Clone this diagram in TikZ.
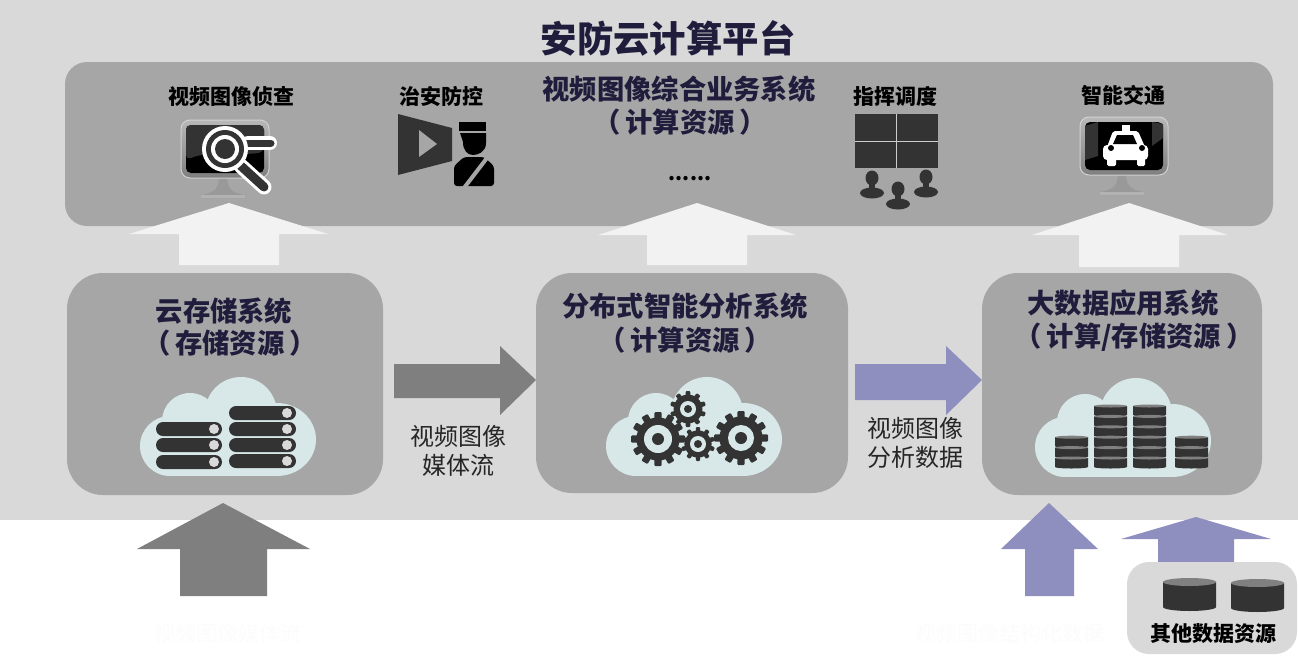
\documentclass[tikz,border=0pt]{standalone}
\usepackage{fontspec}
\setmainfont{Noto Sans CJK SC}
\definecolor{platform}{HTML}{D9D9D9}
\definecolor{panel}{HTML}{A6A6A6}
\definecolor{navy}{HTML}{201C3C}
\definecolor{iconDark}{HTML}{333333}
\definecolor{cloudTint}{HTML}{D8E8E9}
\definecolor{arrowGrey}{HTML}{7F7F7F}
\definecolor{arrowPurple}{HTML}{8F8FBF}
\definecolor{arrowLight}{HTML}{F2F2F2}
\tikzset{
	panelbox/.style={fill=panel,rounded corners=#1,inner sep=0pt},
	paneltitle/.style={font=\fontsize{27.3}{30}\selectfont\bfseries,text=navy,inner sep=0pt},
	iconlabel/.style={font=\fontsize{21}{25}\selectfont\bfseries,text=black,inner sep=0pt},
	flowlabel/.style={font=\fontsize{24}{29}\selectfont,text=black!85,inner sep=0pt},
	ghostlabel/.style={font=\fontsize{21}{25}\selectfont,text=black!1,inner sep=0pt},
	pics/cloudicon/.style={code={
		\fill[cloudTint] (30,69) circle(30);
		\fill[cloudTint] (50,44) circle(28);
		\fill[cloudTint] (101,36) circle(36);
		\fill[cloudTint] (137,62.5) ellipse[x radius=39,y radius=36.5];
		\fill[cloudTint] (30,50) rectangle (137,99);
	}},
	pics/gearicon/.style n args={4}{code={
		\fill[iconDark] (0,0) circle(0.8*#1);
		\foreach \t in {1,...,#2}
			\fill[iconDark,rotate={\t*360/#2},rounded corners=1pt] (-0.13*#1,0) rectangle (0.13*#1,#1);
		\fill[cloudTint] (0,0) circle(#3);
		\fill[iconDark] (0,0) circle(#4);
	}},
	pics/monitoricon/.style={code={
		\fill[black!40] (38,56) -- (46,56) .. controls (46,68) and (50,73) .. (64,75) -- (64,78) -- (20,78) -- (20,75) .. controls (34,73) and (38,68) .. (38,56) -- cycle;
		\fill[black!30] (20,75) rectangle (64,78);
		\draw[black!18,line width=1pt,top color=black!28,bottom color=black!50,rounded corners=9pt] (0,0) rectangle (88,58);
		\fill[black,rounded corners=5pt] (5,5) rectangle (83,53);
	}},
	pics/discicon/.style n args={3}{code={
		\fill[iconDark] (0,0) -- (0,#2) arc[start angle=180,end angle=0,x radius=#1/2,y radius=#3] -- (#1,0) -- cycle;
		\fill[black!50] (#1/2,0) ellipse[x radius=#1/2,y radius=#3];
	}},
}
\begin{document}
\begin{tikzpicture}[x=1pt,y=-1pt]
	\useasboundingbox (0,0) rectangle (1298,659);
	\fill[white] (0,0) rectangle (1298,659);
	\fill[platform] (0,0) rectangle (1298,520);
	\node (platformtitle) at (668,38) [font=\fontsize{36.4}{40}\selectfont\bfseries,text=navy,inner sep=0pt] {安防云计算平台};
	% panels
	\node (topsystem) at (669,144) [panelbox=22pt,minimum width=1208pt,minimum height=164pt] {};
	\node (storage) at (225,384) [panelbox=36pt,minimum width=316pt,minimum height=222pt] {};
	\node (analysis) at (692,383) [panelbox=36pt,minimum width=312pt,minimum height=220pt] {};
	\node (bigdata) at (1122,384) [panelbox=36pt,minimum width=280pt,minimum height=222pt] {};
	% block arrows
	\fill[arrowLight] (229,203) -- (328,234) -- (279,234) -- (279,265) -- (179,265) -- (179,234) -- (129,234) -- cycle;
	\fill[arrowLight] (697,203) -- (796,235) -- (747,235) -- (747,265) -- (647,265) -- (647,235) -- (598,235) -- cycle;
	\fill[arrowLight] (1129,203) -- (1228,235) -- (1179,235) -- (1179,267) -- (1079,267) -- (1079,235) -- (1032,235) -- cycle;
	\fill[arrowGrey] (536,380) -- (500,415) -- (500,398) -- (394,398) -- (394,364) -- (500,364) -- (500,346) -- cycle;
	\fill[arrowPurple] (982,380) -- (946,415) -- (946,400) -- (855,400) -- (855,364) -- (946,364) -- (946,346) -- cycle;
	\fill[arrowGrey] (223,503) -- (310,549) -- (267,549) -- (267,596) -- (180,596) -- (180,549) -- (137,549) -- cycle;
	\fill[arrowPurple] (1049,503) -- (1098,549) -- (1074,549) -- (1074,596) -- (1025,596) -- (1025,549) -- (1001,549) -- cycle;
	\fill[arrowPurple] (1196,517) -- (1271,539) -- (1234,539) -- (1234,570) -- (1158,570) -- (1158,539) -- (1121,539) -- cycle;
	% titles
	\node (toptitle) at (679,89) [paneltitle] {视频图像综合业务系统};
	\node (topres) at (680,122) [paneltitle] {（\hspace{5pt}计算资源\hspace{5pt}）};
	\node (moredots) at (690,179) [font=\fontsize{20}{24}\selectfont\bfseries,inner sep=0pt] {......};
	\node (storagetitle) at (224,311) [paneltitle] {云存储系统};
	\node (storageres) at (230,343) [paneltitle] {（\hspace{5pt}存储资源\hspace{5pt}）};
	\node (analysistitle) at (685,306) [paneltitle] {分布式智能分析系统};
	\node (analysisres) at (685,340) [paneltitle] {（\hspace{5pt}计算资源\hspace{5pt}）};
	\node (bigdatatitle) at (1123,303) [paneltitle] {大数据应用系统};
	\node (bigdatares) at (1134,337) [paneltitle] {（\hspace{5pt}计算/存储资源\hspace{5pt}）};
	\node (labelsearch) at (231,97) [iconlabel] {视频图像侦查};
	\node (labelsecurity) at (441,96) [iconlabel] {治安防控};
	\node (labeldispatch) at (895,96) [iconlabel] {指挥调度};
	\node (labeltraffic) at (1123,95) [iconlabel] {智能交通};
	\node (flowmedia) at (458,451) [flowlabel,align=center] {视频图像\\媒体流};
	\node (flowdata) at (915,443) [flowlabel,align=center] {视频图像\\分析数据};
	\node (inmedia) at (228,634) [ghostlabel] {视频图像媒体流};
	\node (instruct) at (1010,634) [ghostlabel] {视频图像结构化数据};
	% monitor with magnifier
	\pic at (181,120) {monitoricon};
	\fill[iconDark,rounded corners=5pt] (186,125) -- (264,125) -- (264,152) .. controls (240,156) and (210,150) .. (186,160) -- (186,130) -- cycle;
	\draw[white,line width=15pt,line cap=round] (241,166) -- (264,187);
	\draw[iconDark,line width=9pt,line cap=round] (241,166) -- (264,187);
	\draw[white,line width=14pt,line cap=round] (248,143) -- (270,143);
	\draw[iconDark,line width=7pt,line cap=round] (246,143) -- (271,143);
	\fill[white] (225,149) circle(23);
	\fill[iconDark] (225,149) circle(19);
	\fill[white] (225,149) circle(14);
	\fill[iconDark] (225,149) circle(10);
	% projector and guard
	\fill[iconDark] (398,114) -- (452,128) -- (452,161) -- (398,175) -- cycle;
	\fill[panel] (419,130) -- (437,144) -- (419,157) -- cycle;
	\fill[black] (459,122) rectangle (486,131);
	\fill[black] (460,133) -- (486,133) -- (486,143) .. controls (486,152) and (478,155) .. (473,155) .. controls (467,155) and (463,150) .. (463,142) -- cycle;
	\fill[black,rounded corners=3pt] (454,186) -- (454,166) -- (464,157) -- (484,157) -- (494,166) -- (494,186) -- cycle;
	\draw[panel,line width=4pt] (490,154) -- (464,188);
	% video wall
	\fill[iconDark] (855,114) rectangle (938,168);
	\draw[black!20,line width=1pt] (896.5,114) -- (896.5,168);
	\draw[black!20,line width=1pt] (855,141) -- (938,141);
	\foreach \px/\py in {872/178,898/189,926/177}{
		\fill[iconDark] (\px,\py) ellipse[x radius=6.5,y radius=7.5];
		\fill[iconDark] (\px,\py+15) ellipse[x radius=12,y radius=5.5];
		\fill[iconDark] (\px-3,\py+4) rectangle (\px+3,\py+12);
	}
	% monitor with taxi
	\pic at (1080,117) {monitoricon};
	\fill[iconDark] (1085,126) -- (1098,122) -- (1098,156) -- (1085,160) -- cycle;
	\fill[iconDark] (1152,122) -- (1163,124) -- (1163,138) -- (1152,146) -- cycle;
	\fill[white] (1122,125) rectangle (1130,132);
	\fill[white,rounded corners=2pt] (1113,131) -- (1138,131) -- (1145,147) -- (1107,147) -- cycle;
	\fill[white,rounded corners=4pt] (1103,160) rectangle (1148,145);
	\fill[white,rounded corners=1.5pt] (1107,158) rectangle (1116,166);
	\fill[white,rounded corners=1.5pt] (1137,158) rectangle (1145,166);
	\fill[black] (1117,135) -- (1133,135) -- (1137,144) -- (1113,144) -- cycle;
	\fill[black] (1111,148) circle(3);
	\fill[black] (1142,148) circle(3);
	% storage cloud
	\pic at (140,377) {cloudicon};
	\foreach \ry in {422,438,455}{
		\fill[iconDark,rounded corners=7pt] (156,\ry) rectangle (222,\ry+14);
		\fill[platform] (214,\ry+7) circle(5);
	}
	\foreach \ry in {406,422,438,454}{
		\fill[iconDark,rounded corners=7pt] (229,\ry) rectangle (296,\ry+14);
		\fill[platform] (287,\ry+7) circle(5);
	}
	% gear cloud
	\pic at (606,377) {cloudicon};
	\pic at (658,439) {gearicon={27}{12}{14}{6}};
	\pic at (688,409) {gearicon={18}{10}{8}{4}};
	\pic at (698,444) {gearicon={17}{10}{8}{4}};
	\pic at (741,438) {gearicon={27}{12}{13}{6}};
	% database cloud
	\pic at (1035,378) {cloudicon};
	\foreach \dx/\dstart in {1055/3,1094/0,1133/0,1175/3}
		\foreach \row in {\dstart,...,5}
			\pic at (\dx,406+\row*10.4) {discicon={33}{9}{1.5}};
	% other data sources
	\node (otherbox) at (1212,608) [fill=platform,rounded corners=22pt,minimum width=170pt,minimum height=92pt,inner sep=0pt] {};
	\pic at (1163,582) {discicon={53}{25}{4}};
	\pic at (1231,583) {discicon={53}{25}{4}};
	\node (otherlabel) at (1213,634) [iconlabel] {其他数据资源};
\end{tikzpicture}
\end{document}
